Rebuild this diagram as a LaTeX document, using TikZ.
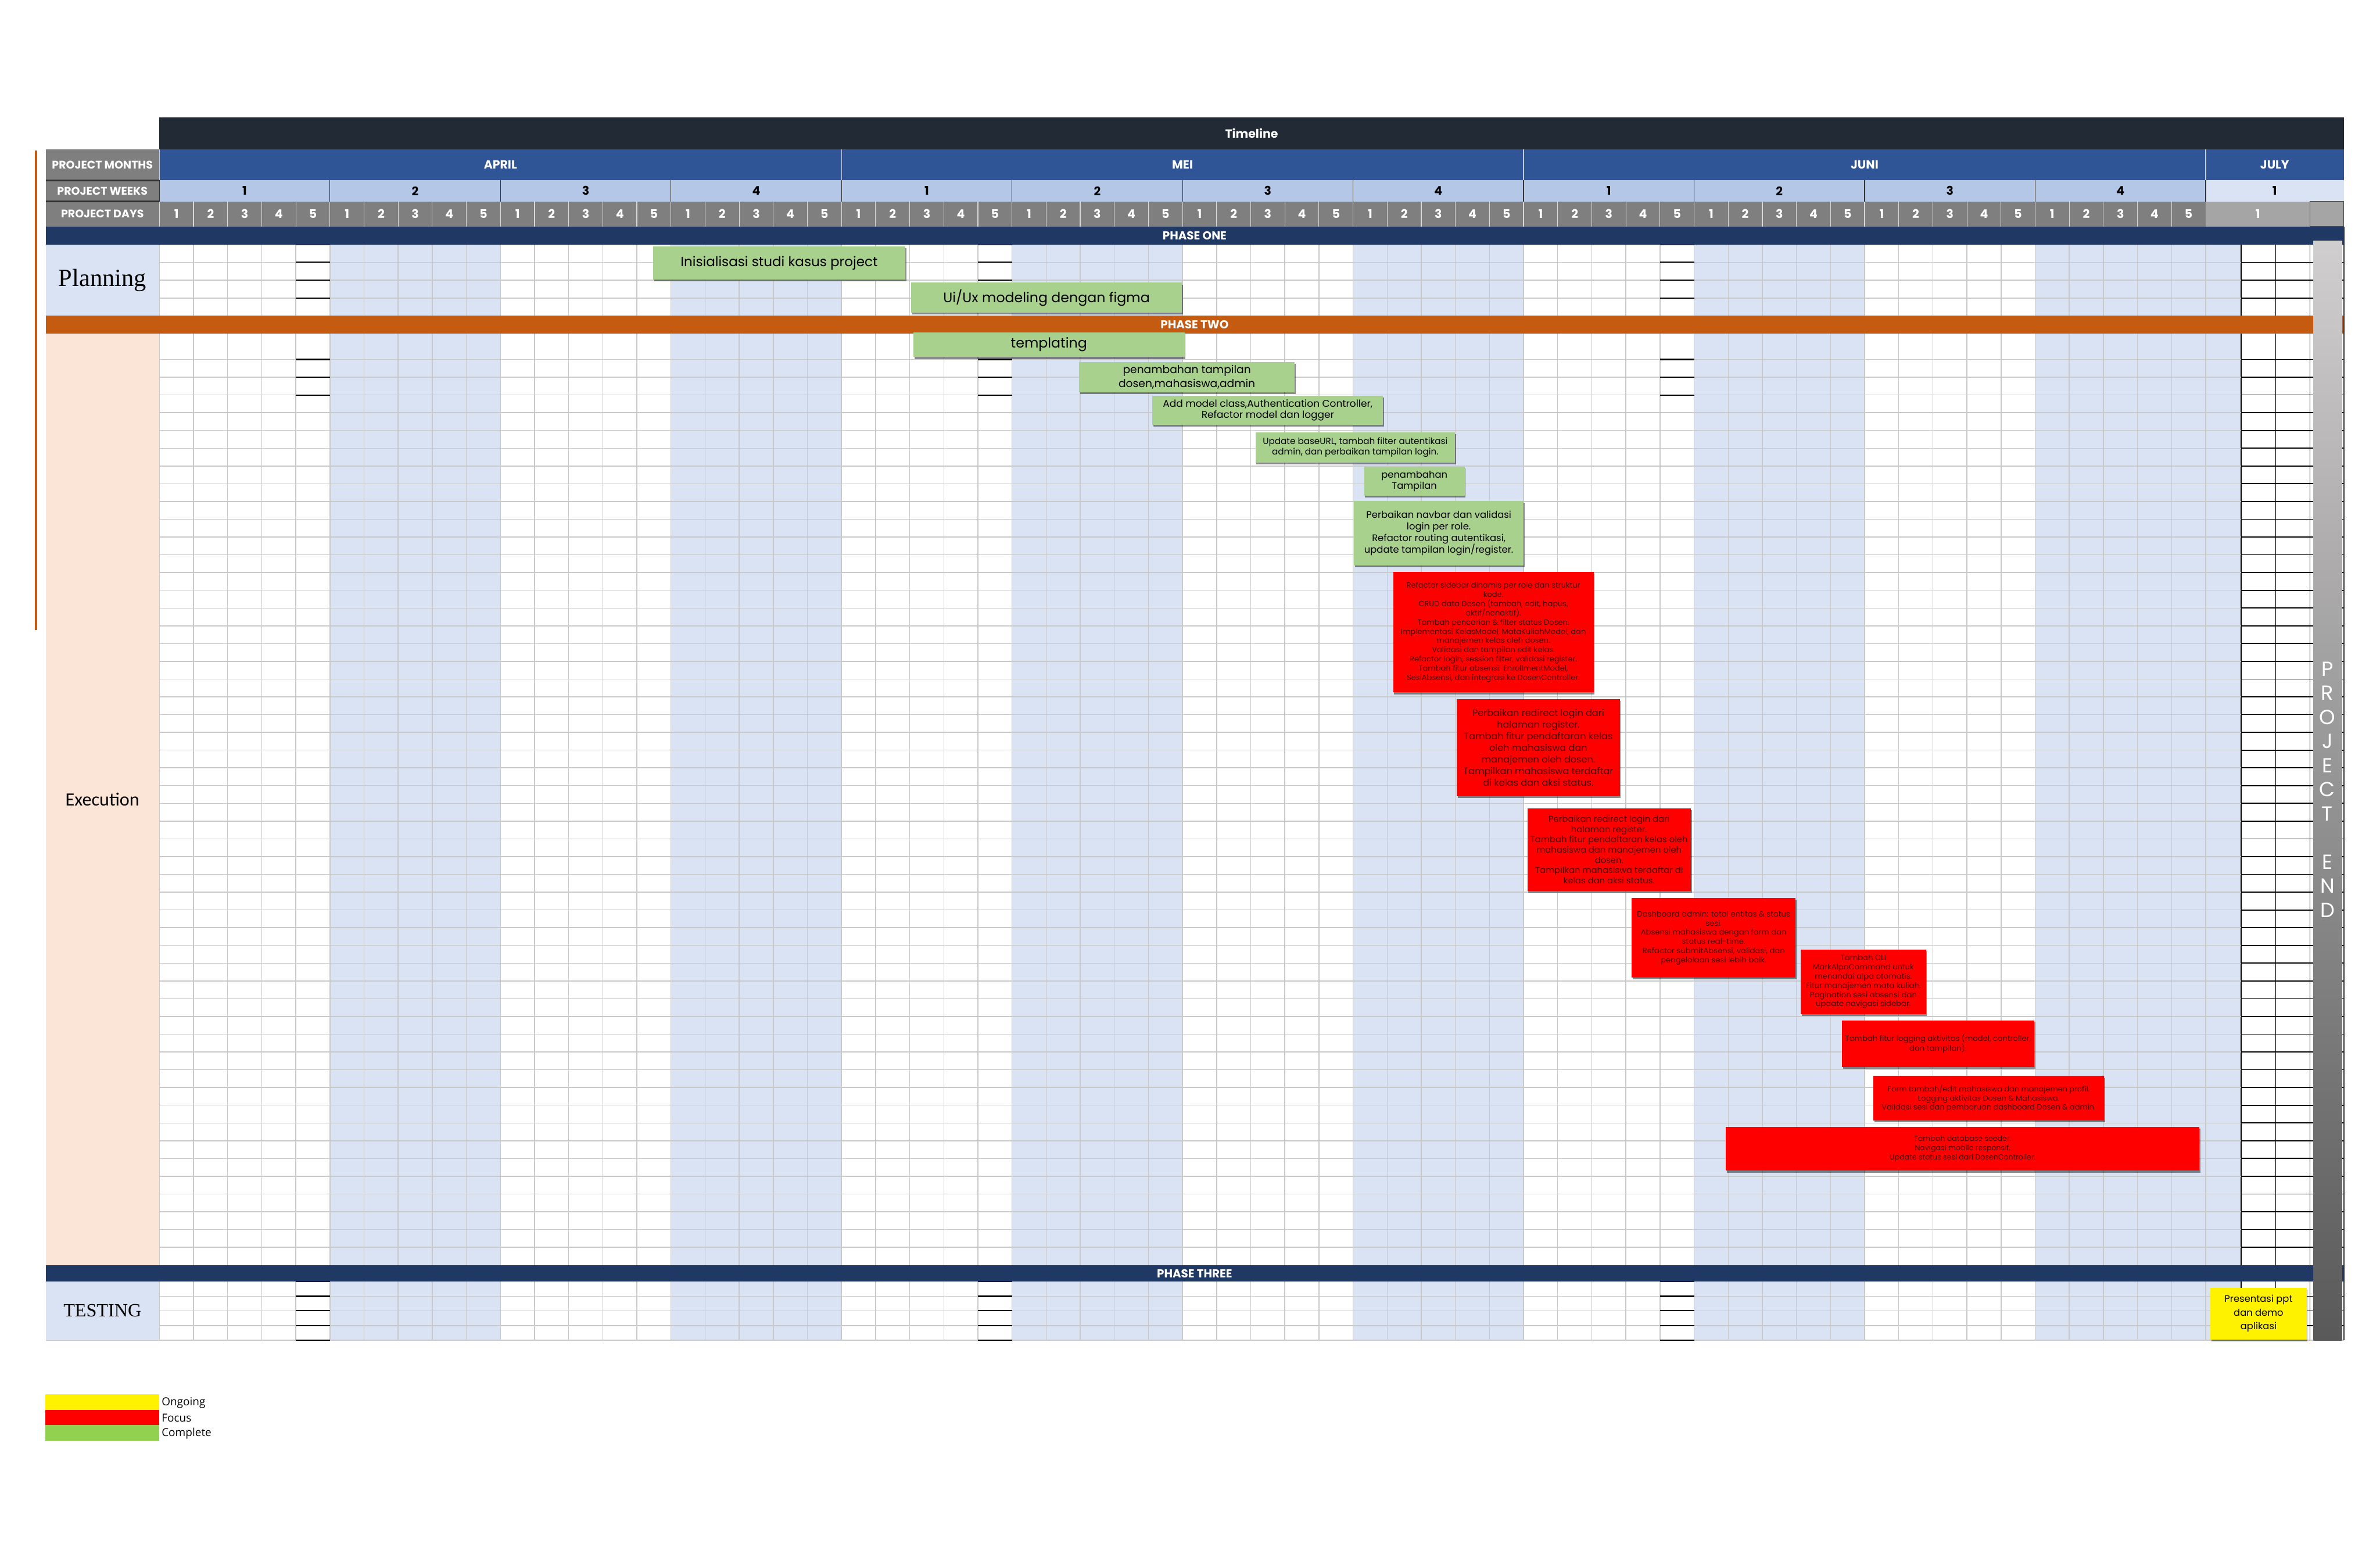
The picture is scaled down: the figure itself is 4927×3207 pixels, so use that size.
\documentclass[tikz,border=0pt]{standalone}
\usepackage{fontspec}
\setmainfont{Poppins}
\newfontfamily\serifface{Liberation Serif}
\newfontfamily\execface{Carlito}
\newfontfamily\legendface{Open Sans}
\usetikzlibrary{shadows}

\definecolor{tlnavy}{HTML}{222A35}
\definecolor{monthblue}{HTML}{2F5597}
\definecolor{weekblue}{HTML}{B4C7E7}
\definecolor{paleblue}{HTML}{DAE3F3}
\definecolor{hdrgrey}{HTML}{7F7F7F}
\definecolor{julygrey}{HTML}{A5A5A5}
\definecolor{phasenavy}{HTML}{203864}
\definecolor{phaseorange}{HTML}{C55A11}
\definecolor{peach}{HTML}{FBE5D6}
\definecolor{donegreen}{HTML}{A9D18E}
\definecolor{keygreen}{HTML}{92D050}
\definecolor{focustext}{HTML}{4A0000}
\definecolor{cellline}{HTML}{C9C9C9}
\definecolor{endtop}{HTML}{D0CECE}
\definecolor{endbottom}{HTML}{595959}

\def\dw{70.6}

\begin{document}
\begin{tikzpicture}[x=0.01cm,y=-0.01cm,
  hdr/.style={text=white,font=\bfseries\fontsize{6.5}{7}\selectfont},
  cellnum/.style={font=\bfseries\fontsize{7}{8}\selectfont},
  phase/.style={text=white,font=\bfseries\fontsize{6.8}{8}\selectfont},
  fs/.style 2 args={font=\fontsize{#1}{#2}\selectfont},
  cellsize/.style 2 args={minimum width=#1cm,minimum height=#2cm},
  task/.style={inner sep=0pt,align=center,
    drop shadow={shadow xshift=.6pt,shadow yshift=-1.1pt,opacity=.45,fill=black}},
  done/.style={task,fill=donegreen},
  focus/.style={task,fill=red,text=focustext},
  ongoing/.style={task,fill=yellow},
  grid line/.style={cellline,line width=.5pt},
  july line/.style={black,line width=.6pt}
]
\fill[white] (0,0) rectangle (4927,3207);
\useasboundingbox (0,0) rectangle (4927,3207);

% body shading and cell grid
\foreach \ya/\yb in {506/653,690/2619,2652/2774}{
  \foreach \m in {0,1,2}{
    \fill[paleblue] ({330+(\m*20+5)*\dw},\ya) rectangle ({330+(\m*20+10)*\dw},\yb);
    \fill[paleblue] ({330+(\m*20+15)*\dw},\ya) rectangle ({330+(\m*20+20)*\dw},\yb);
  }
  \fill[paleblue] (4566,\ya) rectangle (4639,\yb);
  \foreach \i in {0,...,60}
    \draw[grid line] ({330+\i*\dw},\ya) -- ({330+\i*\dw},\yb);
  \draw[july line] (4639,\ya) -- (4639,\yb) (4711,\ya) -- (4711,\yb) (4782,\ya) -- (4782,\yb);
}
\foreach \y in {543,580,617,2683,2713,2744}{
  \draw[grid line] (330,\y) -- (4639,\y);
  \draw[july line] (4639,\y) -- (4852,\y);
}
\foreach \k in {0,...,50}{
  \draw[grid line] (330,{744+36.75*\k}) -- (4639,{744+36.75*\k});
  \draw[july line] (4639,{744+36.75*\k}) -- (4852,{744+36.75*\k});
}
\draw[grid line] (95,2774) -- (4852,2774);
\foreach \m in {0,1,2}
  \foreach \y in {506,543,580,617,744,781,818,2652,2683,2713,2744,2774}
    \draw[black,line width=.7pt] ({330+(\m*20+4)*\dw},\y) -- ({330+(\m*20+5)*\dw},\y);

% header
\fill[tlnavy] (330,243) rectangle (4852,309);
\node[hdr,font=\bfseries\fontsize{7}{8}\selectfont] (timeline) at (2591,276) {Timeline};
\fill[hdrgrey] (95,309) rectangle (330,469);
\draw[black!80,line width=1pt] (95,373) -- (330,373) (95,417) -- (330,417);
\node[hdr] (lblmonth) at (212,341) {PROJECT MONTHS};
\node[hdr] (lblweek) at (212,395) {PROJECT WEEKS};
\node[hdr] (lblday) at (212,443) {PROJECT DAYS};
\fill[monthblue] (330,309) rectangle (4852,373);
\fill[weekblue] (330,373) rectangle (4566,417);
\fill[paleblue] (4566,373) rectangle (4852,417);
\fill[hdrgrey] (330,417) rectangle (4566,469);
\fill[julygrey] (4566,417) rectangle (4852,469);
\draw[black!70] (4782,417) rectangle (4852,469);
\foreach \mname [count=\m from 0] in {APRIL,MEI,JUNI}{
  \node[cellnum,text=white] (month\m) at ({330+(\m*20+10)*\dw},341) {\mname};
  \draw[white!70!monthblue] ({330+\m*20*\dw},309) -- ({330+\m*20*\dw},373);
  \foreach \w in {1,...,4}{
    \node[cellnum] (week\m\w) at ({330+(\m*20+\w*5-2.5)*\dw},395) {\w};
    \draw[black!80] ({330+(\m*20+\w*5-5)*\dw},373) -- ({330+(\m*20+\w*5-5)*\dw},417);
  }
}
\node[cellnum,text=white] (month3) at (4709,341) {JULY};
\draw[white!70!monthblue] (4566,309) -- (4566,373);
\draw[black!80] (4566,373) -- (4566,417);
\node[cellnum] (week31) at (4709,395) {1};
\foreach \i in {0,...,59}{
  \pgfmathtruncatemacro{\dn}{mod(\i,5)+1}
  \node[cellnum,text=white] (day\i) at ({330+(\i+.5)*\dw},443) {\dn};
  \draw[white!70!hdrgrey] ({330+\i*\dw},417) -- ({330+\i*\dw},469);
}
\node[cellnum,text=white] (day60) at (4674,443) {1};

% phases
\fill[phasenavy] (95,469) rectangle (4852,506);
\node[phase] (ph1) at (2473,488) {PHASE ONE};
\fill[phaseorange] (95,653) rectangle (4852,690);
\node[phase] (ph2) at (2473,672) {PHASE TWO};
\fill[phasenavy] (95,2619) rectangle (4852,2652);
\node[phase] (ph3) at (2473,2636) {PHASE THREE};

\fill[paleblue] (95,506) rectangle (330,653);
\node[font=\serifface\fontsize{14.5}{16}\selectfont] (planning) at (212,580) {Planning};
\fill[peach] (95,690) rectangle (330,2619);
\node[font=\execface\fontsize{11}{13}\selectfont] (execution) at (212,1654) {Execution};
\fill[paleblue] (95,2652) rectangle (330,2774);
\node[font=\serifface\fontsize{11}{13}\selectfont] (testing) at (212,2713) {TESTING};

% completed tasks
\node[done,fs={7.9}{9.5},cellsize={5.22}{.68}] (t1) at (1613,544) {Inisialisasi studi kasus project};
\node[done,fs={8.1}{9.5},cellsize={5.61}{.62}] (t2) at (2166.5,616) {Ui/Ux modeling dengan figma};
\node[done,fs={8.1}{9.5},cellsize={5.61}{.51}] (t3) at (2171.5,713.5) {templating};
\node[done,fs={6.4}{8},cellsize={4.46}{.63}] (t4) at (2457,780.5) {penambahan tampilan\\dosen,mahasiswa,admin};
\node[done,fs={5.8}{6.6},cellsize={4.77}{.60}] (t5) at (2624.5,849) {Add model class,Authentication Controller,\\Refactor model dan logger};
\node[done,fs={5.2}{5.9},cellsize={4.13}{.62}] (t6) at (2805.5,926) {Update baseURL, tambah filter autentikasi\\admin, dan perbaikan tampilan login.};
\node[done,fs={5.6}{6.5},cellsize={2.08}{.60}] (t7) at (2928,996) {penambahan\\Tampilan};
\node[done,fs={5.6}{6.8},cellsize={3.51}{1.33}] (t8) at (2978.5,1103.5) {Perbaikan navbar dan validasi\\login per role.\\Refactor routing autentikasi,\\update tampilan login/register.};

% focus tasks
\node[focus,fs={4.45}{5.45},cellsize={4.15}{2.49}] (f1) at (3091.5,1308.5) {Refactor sidebar dinamis per role dan struktur\\kode.\\CRUD data Dosen (tambah, edit, hapus,\\aktif/nonaktif).\\Tambah pencarian \& filter status Dosen.\\Implementasi KelasModel, MataKuliahModel, dan\\manajemen kelas oleh dosen.\\Validasi dan tampilan edit kelas.\\Refactor login, session filter, validasi register.\\Tambah fitur absensi: EnrollmentModel,\\SesiAbsensi, dan integrasi ke DosenController.};
\node[focus,fs={5.5}{6.8},cellsize={3.37}{2.01}] (f2) at (3184.5,1547.5) {Perbaikan redirect login dari\\halaman register.\\Tambah fitur pendaftaran kelas\\oleh mahasiswa dan\\manajemen oleh dosen.\\Tampilkan mahasiswa terdaftar\\di kelas dan aksi status.};
\node[focus,fs={5.05}{6.05},cellsize={3.38}{1.71}] (f3) at (3331,1758.5) {Perbaikan redirect login dari\\halaman register.\\Tambah fitur pendaftaran kelas oleh\\mahasiswa dan manajemen oleh\\dosen.\\Tampilkan mahasiswa terdaftar di\\kelas dan aksi status.};
\node[focus,fs={4.5}{5.4},cellsize={3.39}{1.64}] (f4) at (3547.5,1941) {Dashboard admin: total entitas \& status\\sesi.\\Absensi mahasiswa dengan form dan\\status real-time.\\Refactor submitAbsensi, validasi, dan\\pengelolaan sesi lebih baik.};
\node[focus,fs={4.5}{5.4},cellsize={2.59}{1.34}] (f5) at (3857.5,2032) {Tambah CLI\\MarkAlpaCommand untuk\\menandai alpa otomatis.\\Fitur manajemen mata kuliah.\\Pagination sesi absensi dan\\update navigasi sidebar.};
\node[focus,fs={4.5}{5.7},cellsize={3.98}{.96}] (f6) at (4012,2160) {Tambah fitur logging aktivitas (model, controller,\\dan tampilan).};
\node[focus,fs={4.4}{5.4},cellsize={4.78}{.92}] (f7) at (4117,2273) {Form tambah/edit mahasiswa dan manajemen profil.\\Logging aktivitas Dosen \& Mahasiswa.\\Validasi sesi dan pembaruan dashboard Dosen \& admin.};
\node[focus,fs={4.3}{5.4},cellsize={9.80}{.91}] (f8) at (4063,2377.5) {Tambah database seeder.\\Navigasi mobile responsif.\\Update status sesi dari DosenController.};

% ongoing
\node[ongoing,fs={5.6}{8},cellsize={1.99}{1.07}] (y1) at (4675.5,2718.5) {Presentasi ppt\\dan demo\\aplikasi};

% project end
\shade[top color=endtop,bottom color=endbottom] (4789,498) rectangle (4848,2774);
\node[text=white,align=center,font=\fontsize{12}{14.2}\selectfont] (projend) at (4818,1634) {P\\R\\O\\J\\E\\C\\T\\[14.2pt]E\\N\\D};
\draw[black!80,line width=.8pt] (4852,469) -- (4852,2774);

\draw[phaseorange,line width=1.4pt] (75,312) -- (75,1304);

% legend
\fill[yellow] (94,2886) rectangle (329,2918);
\fill[red] (94,2918) rectangle (329,2950);
\fill[keygreen] (94,2950) rectangle (329,2982);
\node[anchor=west,inner sep=0pt,font=\legendface\fontsize{6.5}{8}\selectfont] (keyongoing) at (334,2903) {Ongoing};
\node[anchor=west,inner sep=0pt,font=\legendface\fontsize{6.5}{8}\selectfont] (keyfocus) at (334,2935) {Focus};
\node[anchor=west,inner sep=0pt,font=\legendface\fontsize{6.5}{8}\selectfont] (keydone) at (334,2967) {Complete};
\end{tikzpicture}
\end{document}
